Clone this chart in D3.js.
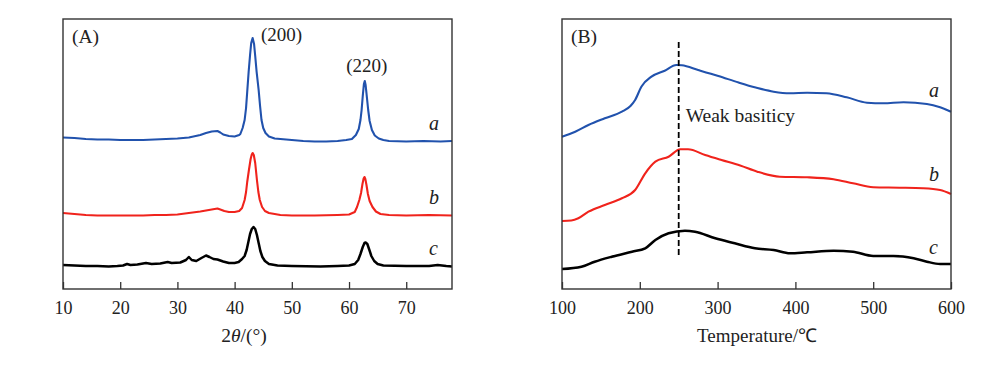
<!DOCTYPE html>
<html><head><meta charset="utf-8">
<script src="https://cdn.jsdelivr.net/npm/d3@7"></script>
<style>
html,body{margin:0;padding:0;background:#fff;}
svg text{font-family:"Liberation Serif","Times New Roman",serif;fill:#222;}
</style></head>
<body><svg id="chart" width="1000" height="366"></svg>
<script>
// ---------- Panel A: XRD (2θ in degrees, intensity in a.u.) ----------
const xrdTicks = [10, 20, 30, 40, 50, 60, 70];
const xrdA = [[10,151.5],[12,151],[14,150],[16,149.5],[18,149.5],[20,149],[22,149],[24,149],[26,149.5],[28,150],[30,150.5],[32,151.5],[34,154],[35,156],[36,157.5],[37,158],[37.5,156.5],[38,154.5],[39,153],[40,152.5],[40.8,154],[41.0,155],[41.4,161],[41.75,169],[42.0,181],[42.2,197],[42.45,217],[42.7,234],[42.9,246],[43.15,251],[43.4,245],[43.6,233],[43.85,217],[44.2,199],[44.45,183],[44.7,169],[45.0,161],[45.4,156],[46.0,152.5],[47,150.5],[48,150],[50,149],[52,148],[54,147.5],[56,147.5],[58,148],[59.5,149],[60.5,150],[61.2,154],[61.7,160],[62.0,169],[62.2,179],[62.4,193],[62.6,205],[62.75,208],[62.9,204],[63.1,193],[63.35,179],[63.6,168],[64.0,159],[64.5,153.5],[65.2,150.5],[66,149],[67,148],[70,147.5],[73,148],[76,147.5],[78,148]];
const xrdB = [[10,76],[12,75],[14,74],[16,73.5],[18,73.5],[20,73.5],[22,73.5],[24,73.5],[26,74],[28,74],[30,74.5],[32,76],[34,77.5],[35.5,79],[36.5,80],[37,80.5],[37.5,79.5],[38.2,78],[39,77],[40,77],[40.8,78],[41.3,81],[41.75,89],[42.0,97],[42.2,107],[42.5,119],[42.8,130],[43.0,134.5],[43.15,136],[43.35,134],[43.6,126],[43.9,109],[44.15,97],[44.4,89],[44.8,82],[45.3,78],[46,76],[47,75],[48,74],[50,73.5],[54,73.5],[58,74],[60,74.5],[61.0,77],[61.4,82],[61.8,89],[62.1,96],[62.35,105],[62.55,110.5],[62.7,112],[62.85,110],[63.05,104],[63.3,95],[63.6,88],[64.1,82],[64.7,77.5],[65.5,75],[67,74],[70,73.5],[74,74],[78,73.5]];
const xrdC = [[10,24],[12,23.5],[14,23],[16,23],[18,22.5],[19.5,23],[20.5,23.5],[21.2,25],[21.8,24],[23,24.5],[24.5,26],[25.5,25],[27,25.5],[28.3,27],[29,26],[30.5,26.5],[31.5,29],[32,32],[32.5,29],[33.3,28],[34.2,31],[35,33.5],[35.6,32],[36.3,30],[37,29.5],[38,27.5],[39,26],[40,26],[40.7,27],[41.3,30],[41.75,33],[42.1,39],[42.4,47],[42.7,55],[43.0,60],[43.3,62],[43.6,60],[43.9,54],[44.2,46],[44.5,38],[44.85,32],[45.3,28],[46,25],[47.5,23.5],[50,23],[55,22.5],[58,23],[60,23.5],[61,25],[61.6,29],[62.0,35],[62.4,42],[62.7,46],[62.9,46.5],[63.2,45],[63.5,40],[63.9,33],[64.4,28],[65,25],[66,23.5],[70,23],[74,23],[75.5,24],[77,23],[78,22.5]];
const xrdPeaks = [{label:"(200)", x:43.2, y:251}, {label:"(220)", x:62.75, y:208}];

// ---------- Panel B: CO2-TPD (temperature in °C, signal in a.u.) ----------
const tpdTicks = [100, 200, 300, 400, 500, 600];
const tpdA = [[100,152.3],[117,157.3],[134,164],[155,170.7],[177,177.3],[188,183],[194,189],[202,202.3],[215,212.3],[232,218.3],[247,224],[254,223.7],[275,219],[301,213],[327,206.5],[349,201.5],[372,197.3],[393,195.7],[415,196.3],[440,195.7],[466,191.7],[492,186.3],[513,185.7],[539,186.7],[569,185],[586,181.7],[600,177.3]];
const tpdB = [[100,68],[112,68.5],[121,70.7],[134,77.3],[155,84],[177,90.7],[194,99],[207,115.7],[220,127.3],[237,132.3],[252,139.7],[262,139.7],[284,134],[305,129],[329,123.5],[351,117.3],[380,112.3],[415,111.7],[449,109.7],[474,105.7],[500,101.7],[534,101.3],[564,100.7],[586,99],[600,95]];
const tpdC = [[100,20],[125,22.3],[142,27.3],[164,32.3],[190,37.3],[207,40.7],[220,49],[237,55.7],[258,58.3],[271,57.3],[297,50.7],[322,45.7],[348,40.7],[372,39],[393,35.7],[415,36.7],[449,38.3],[474,37.3],[500,33],[526,33],[552,30.7],[569,27.3],[586,25],[600,25]];
const weakBasicityT = 250;
const weakBasicityRange = [32, 247];

const seriesNames = ["a", "b", "c"];
const seriesColors = ["#2152ad", "#f0231c", "#000000"];

// ---------- drawing ----------
const svg = d3.select("#chart");
const plotTop = 19, plotBottom = 289;

function panel(opts) {
  const x = d3.scaleLinear().domain(opts.xDomain).range([opts.left, opts.right]);
  const y = d3.scaleLinear().domain([0, 270]).range([plotBottom, plotTop]);
  const g = svg.append("g");
  const line = d3.line().x(d => x(d[0])).y(d => y(d[1])).curve(opts.curve);
  opts.series.forEach((s, i) => {
    g.append("path").datum(s).attr("d", line)
      .attr("fill", "none").attr("stroke", seriesColors[i])
      .attr("stroke-width", i === 2 ? 2.5 : 2.1).attr("stroke-linejoin", "round");
  });
  const ax = d3.axisBottom(x).tickValues(opts.ticks).tickSizeInner(-7).tickSizeOuter(0).tickPadding(12);
  const axg = g.append("g").attr("transform", `translate(0,${plotBottom})`).call(ax);
  axg.select(".domain").remove();
  axg.selectAll(".tick line").attr("stroke", "#333").attr("stroke-width", 1.3);
  axg.selectAll(".tick text").attr("font-size", 18).attr("fill", "#222")
    .attr("font-family", "Liberation Serif, serif");
  g.append("rect").attr("x", opts.left).attr("y", plotTop)
    .attr("width", opts.right - opts.left).attr("height", plotBottom - plotTop)
    .attr("fill", "none").attr("stroke", "#333").attr("stroke-width", 1.4);
  g.append("text").attr("x", opts.left + 9).attr("y", 43).attr("font-size", 19.5).text(opts.tag);
  opts.labelY.forEach((ly, i) => {
    g.append("text").attr("x", opts.labelX).attr("y", ly).attr("font-size", 20)
      .attr("font-style", "italic").text(seriesNames[i]);
  });
  return {x, y, g};
}

const A = panel({xDomain:[10,78], left:63, right:452, ticks:xrdTicks, series:[xrdA, xrdB, xrdC],
  tag:"(A)", labelX:429, labelY:[130, 204, 255], curve:d3.curveLinear});
const B = panel({xDomain:[100,600], left:562, right:951, ticks:tpdTicks, series:[tpdA, tpdB, tpdC],
  tag:"(B)", labelX:929, labelY:[97, 181, 254], curve:d3.curveMonotoneX});

A.g.append("text").attr("x", A.x(xrdPeaks[0].x) + 8).attr("y", 41).attr("font-size", 19).text(xrdPeaks[0].label);
A.g.append("text").attr("x", A.x(xrdPeaks[1].x) + 2).attr("y", 72).attr("font-size", 19)
  .attr("text-anchor", "middle").text(xrdPeaks[1].label);

const t1 = svg.append("text").attr("x", 244).attr("y", 342).attr("font-size", 19.5).attr("text-anchor", "middle");
t1.append("tspan").text("2");
t1.append("tspan").attr("font-style", "italic").text("θ");
t1.append("tspan").text("/(°)");
svg.append("text").attr("x", 757).attr("y", 342).attr("font-size", 19).attr("text-anchor", "middle")
  .text("Temperature/℃");

B.g.append("line").attr("x1", B.x(weakBasicityT)).attr("x2", B.x(weakBasicityT))
  .attr("y1", B.y(weakBasicityRange[1])).attr("y2", B.y(weakBasicityRange[0]))
  .attr("stroke", "#000").attr("stroke-width", 1.8).attr("stroke-dasharray", "6,3");
B.g.append("text").attr("x", B.x(weakBasicityT) + 7).attr("y", 122).attr("font-size", 19.5).text("Weak basiticy");
</script></body></html>
